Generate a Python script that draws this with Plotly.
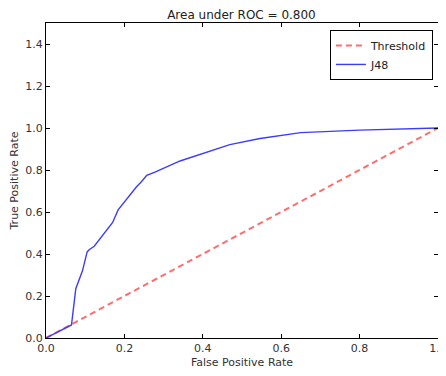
import plotly.graph_objects as go

threshold_x = [0.0, 1.0]
threshold_y = [0.0, 1.0]

j48_fpr = [0.0, 0.065, 0.076, 0.093, 0.105, 0.11, 0.123, 0.146, 0.17, 0.184, 0.207,
           0.231, 0.244, 0.257, 0.278, 0.342, 0.469, 0.546, 0.65, 0.8, 1.0]
j48_tpr = [0.0, 0.062, 0.235, 0.32, 0.41, 0.42, 0.437, 0.49, 0.55, 0.61, 0.665,
           0.72, 0.745, 0.775, 0.79, 0.843, 0.921, 0.95, 0.978, 0.99, 1.0]

x_ticks = [0.0, 0.2, 0.4, 0.6, 0.8, 1.0]
y_ticks = [0.0, 0.2, 0.4, 0.6, 0.8, 1.0, 1.2, 1.4]

font = "DejaVu Sans"

fig = go.Figure()
fig.add_trace(go.Scatter(x=threshold_x, y=threshold_y, mode="lines", name="Threshold",
                         line=dict(color="rgba(255,60,60,0.75)", width=2, dash="6px,4px")))
fig.add_trace(go.Scatter(x=j48_fpr, y=j48_tpr, mode="lines", name="J48",
                         line=dict(color="#3c3cff", width=1.4)))

axis_common = dict(showgrid=False, zeroline=False, showline=True, linecolor="black",
                   linewidth=1, mirror="ticks", ticks="inside", ticklen=4,
                   tickcolor="black", automargin=False, ticklabeloverflow="allow",
                   tickfont=dict(family=font, size=11, color="#333"))

# page body has an 8px default margin, so the figure is sized/offset to compensate
fig.update_layout(
    width=438, height=368,
    margin=dict(l=38, r=8, t=15, b=38),
    paper_bgcolor="white", plot_bgcolor="white",
    title=dict(text="Area under ROC = 0.800", x=0.533, xanchor="center", y=0.992,
               yanchor="top", pad=dict(t=0, b=0),
               font=dict(family=font, size=12, color="#222")),
    xaxis=dict(range=[0, 1], tickvals=x_ticks, ticktext=[f"{v:.1f}" for v in x_ticks],
               title=dict(text="False Positive Rate", font=dict(family=font, size=11, color="#333"),
                          standoff=4), **axis_common),
    yaxis=dict(range=[0, 1.5], tickvals=y_ticks, ticktext=[f"{v:.1f}" for v in y_ticks],
               title=dict(text="True Positive Rate", font=dict(family=font, size=11, color="#333"),
                          standoff=6), **axis_common),
    legend=dict(x=0.987, y=0.978, xanchor="right", yanchor="top",
                bordercolor="black", borderwidth=1, bgcolor="white",
                font=dict(family=font, size=11, color="#222"),
                itemwidth=30, tracegroupgap=0),
    showlegend=True,
)

fig.write_html("out.html")
